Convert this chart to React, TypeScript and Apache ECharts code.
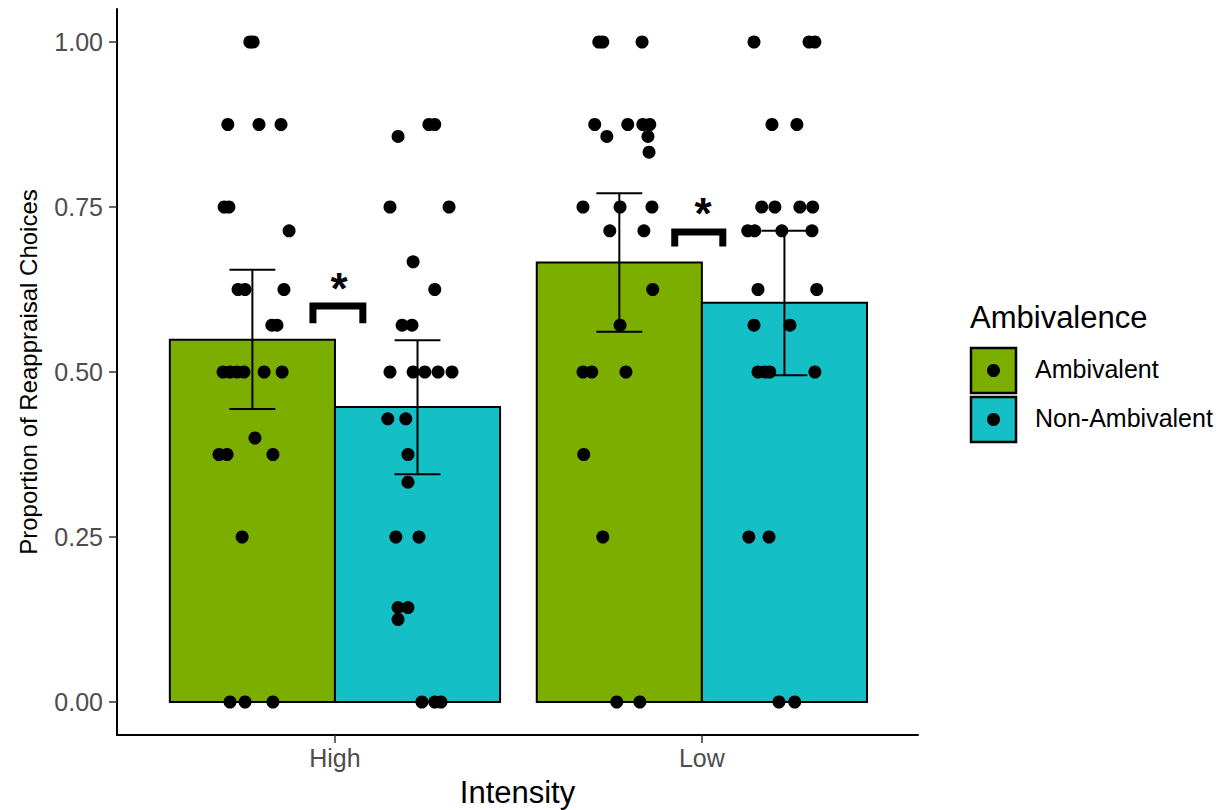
import React, { useEffect, useRef } from "react";
import * as echarts from "echarts";

// ---- data ----
const intensity = ["High", "Low"];
const groups = ["Ambivalent", "Non-Ambivalent"];
const groupColors = ["#7CAE00", "#14BFC5"];
const yTicks = [0, 0.25, 0.5, 0.75, 1];

const ambMeans = [0.549, 0.666];
const nonMeans = [0.447, 0.605];
const ambErrLow = [0.444, 0.561];
const ambErrHigh = [0.655, 0.771];
const nonErrLow = [0.345, 0.495];
const nonErrHigh = [0.548, 0.714];

// significance brackets: [xStart, xEnd, yTop, yLeg]
const sigBrackets = [
  [0.94, 1.076, 0.6, 0.574],
  [1.926, 2.057, 0.712, 0.69],
];
const sigStars = [
  [1.011, 0.626],
  [2.003, 0.74],
];

// jittered individual points [x, proportion]
const highAmbPoints = [
  [0.768, 1], [0.777, 1],
  [0.708, 0.875], [0.793, 0.875], [0.853, 0.875],
  [0.698, 0.75], [0.711, 0.75],
  [0.875, 0.714],
  [0.736, 0.625], [0.755, 0.625], [0.861, 0.625],
  [0.828, 0.571], [0.842, 0.571],
  [0.695, 0.5], [0.714, 0.5], [0.733, 0.5], [0.752, 0.5], [0.807, 0.5], [0.856, 0.5],
  [0.782, 0.4],
  [0.684, 0.375], [0.706, 0.375], [0.831, 0.375],
  [0.747, 0.25],
  [0.714, 0], [0.755, 0], [0.831, 0],
];
const highNonPoints = [
  [1.256, 0.875], [1.272, 0.875],
  [1.172, 0.857],
  [1.15, 0.75], [1.311, 0.75],
  [1.213, 0.667],
  [1.272, 0.625],
  [1.183, 0.571], [1.21, 0.571],
  [1.15, 0.5], [1.213, 0.5], [1.245, 0.5], [1.281, 0.5], [1.319, 0.5],
  [1.144, 0.429], [1.193, 0.429],
  [1.199, 0.375],
  [1.199, 0.333],
  [1.166, 0.25], [1.229, 0.25],
  [1.172, 0.143], [1.199, 0.143],
  [1.172, 0.125],
  [1.237, 0], [1.272, 0], [1.289, 0],
];
const lowAmbPoints = [
  [1.719, 1], [1.73, 1], [1.837, 1],
  [1.708, 0.875], [1.798, 0.875], [1.839, 0.875], [1.858, 0.875],
  [1.741, 0.857], [1.853, 0.857],
  [1.856, 0.833],
  [1.676, 0.75], [1.777, 0.75], [1.864, 0.75],
  [1.749, 0.714], [1.842, 0.714],
  [1.866, 0.625],
  [1.777, 0.571],
  [1.676, 0.5], [1.7, 0.5], [1.793, 0.5],
  [1.678, 0.375],
  [1.73, 0.25],
  [1.768, 0], [1.831, 0],
];
const lowNonPoints = [
  [2.142, 1], [2.292, 1], [2.308, 1],
  [2.191, 0.875], [2.259, 0.875],
  [2.163, 0.75], [2.199, 0.75], [2.267, 0.75], [2.302, 0.75],
  [2.125, 0.714], [2.144, 0.714], [2.218, 0.714], [2.3, 0.714],
  [2.153, 0.625], [2.313, 0.625],
  [2.142, 0.571], [2.24, 0.571],
  [2.153, 0.5], [2.172, 0.5], [2.185, 0.5], [2.308, 0.5],
  [2.128, 0.25], [2.183, 0.25],
  [2.21, 0], [2.253, 0],
];

const DODGE = 0.225;
const HALF_BAR = 0.225;
const CAP = 0.0625;
const FONT = "'Liberation Sans', Arial, Helvetica, sans-serif";

export default function App() {
  const ref = useRef<HTMLDivElement>(null);

  useEffect(() => {
    document.body.style.margin = "0";
    if (!ref.current) return;
    const chart = echarts.init(ref.current, null, { renderer: "svg" });

    const barData = (means: number[], off: number) =>
      means.map((m, i) => [i + 1 + off, m]);
    const errData = (lo: number[], hi: number[], off: number) =>
      lo.map((l, i) => [i + 1 + off, l, hi[i]]);

    const barSeries = (name: string, data: number[][], color: string) => ({
      type: "custom",
      name,
      data,
      z: 1,
      clip: false,
      renderItem: (params: any, api: any) => {
        const x = api.value(0);
        const v = api.value(1);
        const p1 = api.coord([x - HALF_BAR, v]);
        const p2 = api.coord([x + HALF_BAR, 0]);
        return {
          type: "rect",
          shape: { x: p1[0], y: p1[1], width: p2[0] - p1[0], height: p2[1] - p1[1] },
          style: { fill: color, stroke: "#000", lineWidth: 2 },
        };
      },
    });

    const errSeries = (name: string, data: number[][]) => ({
      type: "custom",
      name,
      data,
      z: 3,
      clip: false,
      renderItem: (params: any, api: any) => {
        const x = api.value(0);
        const lo = api.value(1);
        const hi = api.value(2);
        const top = api.coord([x, hi]);
        const bot = api.coord([x, lo]);
        const capL = api.coord([x - CAP, hi]);
        const capR = api.coord([x + CAP, hi]);
        const capL2 = api.coord([x - CAP, lo]);
        const capR2 = api.coord([x + CAP, lo]);
        const st = { stroke: "#000", lineWidth: 2 };
        return {
          type: "group",
          children: [
            { type: "line", shape: { x1: top[0], y1: top[1], x2: bot[0], y2: bot[1] }, style: st },
            { type: "line", shape: { x1: capL[0], y1: capL[1], x2: capR[0], y2: capR[1] }, style: st },
            { type: "line", shape: { x1: capL2[0], y1: capL2[1], x2: capR2[0], y2: capR2[1] }, style: st },
          ],
        };
      },
    });

    const pointSeries = (name: string, data: number[][]) => ({
      type: "scatter",
      name,
      data,
      symbol: "circle",
      symbolSize: 13,
      itemStyle: { color: "#000", opacity: 1 },
      z: 4,
      clip: false,
    });

    const option: any = {
      animation: false,
      backgroundColor: "#fff",
      textStyle: { fontFamily: FONT },
      grid: { left: 117, right: 304, top: 9, bottom: 75, containLabel: false, outerBoundsMode: "none" },
      xAxis: {
        type: "value",
        min: 0.406,
        max: 2.589,
        name: "Intensity",
        nameLocation: "middle",
        nameGap: 42,
        nameTextStyle: { fontSize: 31, color: "#000", fontFamily: FONT },
        axisLine: { show: true, onZero: false, lineStyle: { color: "#000", width: 2 } },
        axisTick: { show: true, customValues: [1, 2], length: 8, lineStyle: { color: "#333", width: 1.5 } },
        axisLabel: {
          show: true,
          customValues: [1, 2],
          formatter: (v: number) => intensity[Math.round(v) - 1] ?? "",
          fontSize: 25,
          color: "#4D4D4D",
          margin: 10,
          fontFamily: FONT,
        },
        splitLine: { show: false },
      },
      yAxis: {
        type: "value",
        min: -0.05,
        max: 1.05,
        name: "Proportion of Reappraisal Choices",
        nameLocation: "middle",
        nameGap: 77,
        nameTextStyle: { fontSize: 24, color: "#000", fontFamily: FONT },
        axisLine: { show: true, onZero: false, lineStyle: { color: "#000", width: 2 } },
        axisTick: { show: true, customValues: yTicks, length: 8, lineStyle: { color: "#333", width: 1.5 } },
        axisLabel: {
          show: true,
          customValues: yTicks,
          formatter: (v: number) => v.toFixed(2),
          fontSize: 25,
          color: "#4D4D4D",
          margin: 14,
          fontFamily: FONT,
        },
        splitLine: { show: false },
      },
      series: [
        barSeries(groups[0], barData(ambMeans, -DODGE), groupColors[0]),
        barSeries(groups[1], barData(nonMeans, DODGE), groupColors[1]),
        pointSeries(groups[0] + " points", [...highAmbPoints, ...lowAmbPoints]),
        pointSeries(groups[1] + " points", [...highNonPoints, ...lowNonPoints]),
        errSeries(groups[0] + " error", errData(ambErrLow, ambErrHigh, -DODGE)),
        errSeries(groups[1] + " error", errData(nonErrLow, nonErrHigh, DODGE)),
        {
          type: "custom",
          name: "significance",
          data: sigBrackets,
          z: 5,
          clip: false,
          renderItem: (params: any, api: any) => {
            const x1 = api.value(0);
            const x2 = api.value(1);
            const yt = api.value(2);
            const yl = api.value(3);
            const a = api.coord([x1, yl]);
            const b = api.coord([x1, yt]);
            const c = api.coord([x2, yt]);
            const d = api.coord([x2, yl]);
            return {
              type: "polyline",
              shape: { points: [a, b, c, d] },
              style: { stroke: "#000", lineWidth: 7, fill: "none", lineJoin: "miter", lineCap: "butt" },
            };
          },
        },
        {
          type: "custom",
          name: "stars",
          data: sigStars,
          z: 5,
          clip: false,
          renderItem: (params: any, api: any) => {
            const p = api.coord([api.value(0), api.value(1)]);
            return {
              type: "text",
              x: p[0],
              y: p[1],
              style: {
                text: "*",
                fontSize: 44,
                fontWeight: "bold",
                fontFamily: FONT,
                fill: "#000",
                align: "center",
                verticalAlign: "middle",
              },
            };
          },
        },
      ],
      graphic: [
        {
          type: "text",
          left: 970,
          top: 302,
          style: { text: "Ambivalence", fontSize: 31, fontFamily: FONT, fill: "#000" },
        },
        ...groups.flatMap((g, i) => [
          {
            type: "rect",
            shape: { x: 971, y: 348 + i * 49, width: 45, height: 45 },
            style: { fill: groupColors[i], stroke: "#000", lineWidth: 2.5 },
          },
          {
            type: "circle",
            shape: { cx: 993.5, cy: 370.5 + i * 49, r: 6.5 },
            style: { fill: "#000" },
          },
          {
            type: "text",
            left: 1035,
            top: 356 + i * 49,
            style: { text: g, fontSize: 25, fontFamily: FONT, fill: "#000" },
          },
        ]),
      ],
    };

    chart.setOption(option);
    return () => chart.dispose();
  }, []);

  return <div ref={ref} style={{ width: 1222, height: 810 }} />;
}
